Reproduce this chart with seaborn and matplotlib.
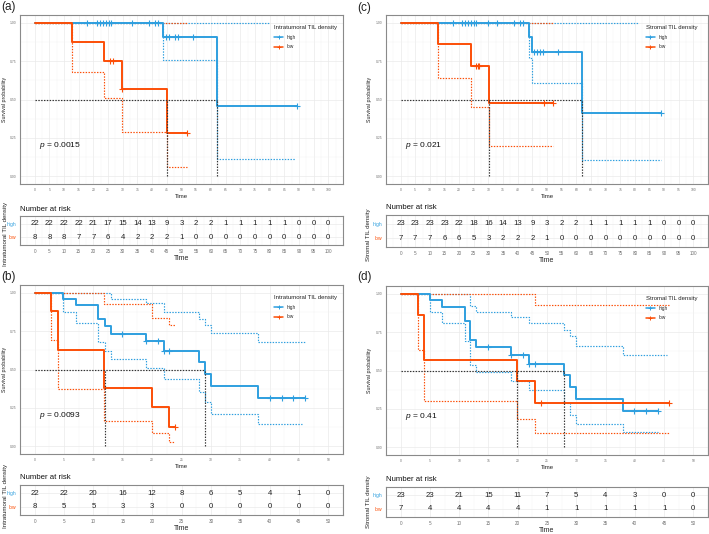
import numpy as np
import matplotlib
matplotlib.use("Agg")
import matplotlib.pyplot as plt
from matplotlib.lines import Line2D
from matplotlib.ticker import MultipleLocator, FormatStrFormatter
import seaborn as sns

# ---------------- data ----------------
GROUPS = ["high", "low"]

# Panel (a) Intratumoral TIL density, long follow-up
A_HIGH_T = [0, 43.6, 62.0]
A_HIGH_S = [1.0, 0.909, 0.46]
A_HIGH_LO = [1.0, 0.756, 0.115]
A_HIGH_UP = [1.0, 1.0, 1.0]
A_HIGH_END = [89.2, 88.7, 80.0]          # curve, lower CI, upper CI end times
A_HIGH_CENS = [17.7, 21.1, 22.1, 23.1, 24.2, 25.2, 25.9, 33.0, 38.9, 40.9, 42.0,
               44.6, 45.6, 47.7, 48.7, 53.8, 89.2]
A_LOW_T = [0, 12.8, 23.7, 29.9, 44.9]
A_LOW_S = [1.0, 0.877, 0.752, 0.566, 0.285]
A_LOW_LO = [1.0, 0.68, 0.508, 0.287, 0.06]
A_LOW_UP = [1.0, 1.0, 1.0, 1.0, 1.0]
A_LOW_END = [51.8, 51.8, 51.8]
A_LOW_CENS = [25.7, 26.7, 29.9, 51.8]
A_MEDIANS = [44.9, 62.0]
A_RISK_HIGH = [22, 22, 22, 22, 21, 17, 15, 14, 13, 9, 3, 2, 2, 1, 1, 1, 1, 1, 0, 0, 0]
A_RISK_LOW = [8, 8, 8, 7, 7, 6, 4, 2, 2, 2, 1, 0, 0, 0, 0, 0, 0, 0, 0, 0, 0]
A_PVAL = "0.0015"

# Panel (c) Stromal TIL density, long follow-up
C_HIGH_T = [0, 43.75, 44.9, 61.9]
C_HIGH_S = [1.0, 0.91, 0.809, 0.409]
C_HIGH_LO = [1.0, 0.77, 0.61, 0.103]
C_HIGH_UP = [1.0, 1.0, 1.0, 1.0]
C_HIGH_END = [88.9, 88.9, 81.0]
C_HIGH_CENS = [17.8, 21.0, 22.0, 23.1, 24.1, 25.1, 25.8, 29.9, 33.0, 38.75, 40.8, 41.8,
               45.7, 46.7, 47.7, 48.75, 53.75, 88.9]
C_LOW_T = [0, 12.8, 24.0, 30.1]
C_LOW_S = [1.0, 0.86, 0.716, 0.477]
C_LOW_LO = [1.0, 0.637, 0.454, 0.196]
C_LOW_UP = [1.0, 1.0, 1.0, 1.0]
C_LOW_END = [51.9, 51.9, 51.9]
C_LOW_CENS = [25.6, 26.4, 26.9, 49.0, 51.9]
C_MEDIANS = [30.1, 61.9]
C_RISK_HIGH = [23, 23, 23, 23, 22, 18, 16, 14, 13, 9, 3, 2, 2, 1, 1, 1, 1, 1, 0, 0, 0]
C_RISK_LOW = [7, 7, 7, 6, 6, 5, 3, 2, 2, 2, 1, 0, 0, 0, 0, 0, 0, 0, 0, 0, 0]
C_PVAL = "0.021"

# Panel (b) Intratumoral TIL density, short follow-up
B_HIGH_T = [0, 4.85, 6.96, 10.84, 12.0, 12.96, 18.95, 21.97, 27.97, 28.94, 30.08, 38.07]
B_HIGH_S = [1.0, 0.961, 0.918, 0.827, 0.78, 0.734, 0.687, 0.622, 0.546, 0.469, 0.391, 0.313]
B_HIGH_LO = [1.0, 0.875, 0.801, 0.68, 0.622, 0.568, 0.51, 0.438, 0.352, 0.287, 0.21, 0.147]
B_HIGH_UP = [1.0, 1.0, 1.0, 1.0, 1.0, 0.961, 0.933, 0.875, 0.83, 0.79, 0.74, 0.676]
B_HIGH_END = [46.06, 45.5, 46.06]
B_HIGH_CENS = [14.95, 18.95, 21.0, 21.97, 22.95, 40.07, 42.07, 44.06, 46.06]
B_LOW_T = [0, 2.85, 3.94, 11.87, 19.92, 22.95]
B_LOW_S = [1.0, 0.881, 0.628, 0.382, 0.257, 0.125]
B_LOW_LO = [1.0, 0.693, 0.374, 0.162, 0.086, 0.028]
B_LOW_UP = [1.0, 1.0, 1.0, 0.924, 0.833, 0.788]
B_LOW_END = [23.9, 23.9, 23.9]
B_LOW_CENS = [23.9]
B_MEDIANS = [12.0, 28.94]
B_RISK_HIGH = [22, 22, 20, 16, 12, 8, 6, 5, 4, 1, 0]
B_RISK_LOW = [8, 5, 5, 3, 3, 0, 0, 0, 0, 0, 0]
B_PVAL = "0.0093"

# Panel (d) Stromal TIL density, short follow-up
D_HIGH_T = [0, 4.94, 6.99, 10.97, 11.93, 12.9, 18.9, 21.9, 27.95, 28.98, 29.9, 37.95]
D_HIGH_S = [1.0, 0.957, 0.912, 0.825, 0.70, 0.653, 0.603, 0.543, 0.472, 0.394, 0.317, 0.235]
D_HIGH_LO = [1.0, 0.88, 0.81, 0.69, 0.534, 0.49, 0.43, 0.373, 0.29, 0.213, 0.153, 0.097]
D_HIGH_UP = [1.0, 1.0, 1.0, 1.0, 0.92, 0.879, 0.845, 0.808, 0.765, 0.722, 0.662, 0.60]
D_HIGH_END = [43.9, 43.9, 45.5]
D_HIGH_CENS = [14.9, 18.9, 20.9, 21.9, 22.9, 39.9, 41.9, 43.9]
D_LOW_T = [0, 2.95, 3.98, 19.9, 22.9]
D_LOW_S = [1.0, 0.858, 0.571, 0.433, 0.289]
D_LOW_LO = [1.0, 0.636, 0.30, 0.183, 0.093]
D_LOW_UP = [1.0, 1.0, 1.0, 1.0, 0.927]
D_LOW_END = [45.9, 45.9, 45.9]
D_LOW_CENS = [23.9, 45.9]
D_MEDIANS = [19.9, 27.95]
D_RISK_HIGH = [23, 23, 21, 15, 11, 7, 5, 4, 3, 0, 0]
D_RISK_LOW = [7, 4, 4, 4, 4, 1, 1, 1, 1, 1, 0]
D_PVAL = "0.41"

# ---------------- style ----------------
sns.set_style("white")
plt.rcParams['font.family'] = ['Liberation Sans', 'DejaVu Sans']
plt.rcParams['mathtext.fontset'] = 'custom'
plt.rcParams['mathtext.it'] = 'Liberation Sans:italic'
plt.rcParams['mathtext.rm'] = 'Liberation Sans'

BLUE = "#2E9FDF"
RED = "#FC4E07"
COLORS = {"high": BLUE, "low": RED}
W, H = 709, 534

fig = plt.figure(figsize=(W / 100, H / 100), dpi=100)


def rect(l, t, r, b):
    return [l / W, 1 - b / H, (r - l) / W, (b - t) / H]


def steps(t, s, end):
    return list(t) + [end], list(s) + [s[-1]]


def style_axes(ax, tmax):
    ax.set_xlim(-0.05 * tmax, 1.05 * tmax)
    ax.set_xticks(np.arange(0, tmax + 1, 5))
    ax.set_xticks(np.arange(-2.5, tmax + 5, 5), minor=True)
    ax.grid(which='major', color='#EAEAEA', lw=0.5)
    ax.grid(which='minor', color='#F3F3F3', lw=0.35)
    ax.set_axisbelow(True)
    for sp in ax.spines.values():
        sp.set_color('#8A8A8A')
        sp.set_linewidth(0.8)
    ax.tick_params(which='major', length=1.5, width=0.4, pad=1.2, colors='#8A8A8A',
                   labelcolor='#707070')
    ax.tick_params(which='minor', length=0)


def draw_panel(main_px, table_px, letter, letter_px, tmax, groups_data, medians,
               risk_high, risk_low, pval, title, leg_x, lab_x, tab_lab_x, tab_lab_y):
    ax = fig.add_axes(rect(*main_px))
    style_axes(ax, tmax)
    ax.set_ylim(-0.05, 1.05)
    ax.yaxis.set_major_locator(MultipleLocator(0.25))
    ax.yaxis.set_minor_locator(MultipleLocator(0.125))
    ax.yaxis.set_major_formatter(FormatStrFormatter('%.2f'))
    ax.tick_params(labelsize=2.4)

    # CI lines first
    for g in GROUPS:
        t, s, lo, up, end, cens = groups_data[g]
        for vals, e in ((lo, end[1]), (up, end[2])):
            xs, ys = steps(t, vals, e)
            sns.lineplot(x=xs, y=ys, drawstyle='steps-post', color=COLORS[g], lw=0.85,
                         ls=(0, (1.2, 1.2)), estimator=None, sort=False, ax=ax)
    # survival curves
    for g in GROUPS:
        t, s, lo, up, end, cens = groups_data[g]
        xs, ys = steps(t, s, end[0])
        sns.lineplot(x=xs, y=ys, drawstyle='steps-post', color=COLORS[g], lw=1.4,
                     estimator=None, sort=False, ax=ax)
        idx = np.searchsorted(np.array(t), np.array(cens), side='right') - 1
        cy = np.array(s)[idx]
        sns.scatterplot(x=cens, y=cy, marker='+', color=COLORS[g], s=18, linewidth=0.8,
                        ax=ax, zorder=4)
    # median lines
    ax.plot([0, max(medians)], [0.5, 0.5], ls=(0, (1.2, 1.2)), color='#333333', lw=0.85)
    for m in medians:
        ax.plot([m, m], [0, 0.5], ls=(0, (1.2, 1.2)), color='#333333', lw=0.85)

    ax.text(0.014 * tmax, 0.2, r"$p$ = " + pval, fontsize=6, va='center', ha='left',
            color='#111111')
    ax.set_xlabel("Time", fontsize=4.3, labelpad=1.5, color='#222222')
    ax.set_ylabel("Survival probability", fontsize=3.8, color='#222222')
    ax.yaxis.set_label_coords(lab_x, 0.5)

    handles = [Line2D([0], [0], color=COLORS[g], lw=1.1, marker='+', markersize=3.5,
                      markeredgewidth=0.7) for g in GROUPS]
    leg = ax.legend(handles, GROUPS, title=title, loc='upper left',
                    bbox_to_anchor=(leg_x, 0.955), frameon=False, fontsize=3.4,
                    title_fontsize=4.3, handlelength=1.9, handletextpad=0.8,
                    labelspacing=1.0, borderpad=0, alignment='left')
    leg.get_title().set_color('#222222')

    fig.text(letter_px[0] / W, 1 - letter_px[1] / H, letter, fontsize=8.5,
             ha='left', va='top', color='#222222')

    # risk table
    tx = fig.add_axes(rect(*table_px))
    style_axes(tx, tmax)
    tx.set_ylim(0.4, 2.6)
    tx.set_yticks([2, 1])
    tx.set_yticklabels(GROUPS)
    tx.tick_params(labelsize=3.3)
    tx.tick_params(axis='y', labelsize=3.6)
    for lbl, g in zip(tx.get_yticklabels(), GROUPS):
        lbl.set_color(COLORS[g])
    times = np.arange(len(risk_high)) * 5
    for t_, h_, l_ in zip(times, risk_high, risk_low):
        tx.text(t_, 2, str(h_), ha='center', va='center', fontsize=5.6, color='#222222')
        tx.text(t_, 1, str(l_), ha='center', va='center', fontsize=5.6, color='#222222')
    tx.text(0.0, 1.24, "Number at risk", transform=tx.transAxes, fontsize=5.6,
            ha='left', va='center', color='#111111')
    tx.set_xlabel("Time", fontsize=5.0, labelpad=1.2, color='#222222')
    tx.set_ylabel(title, fontsize=4.4, color='#222222')
    tx.yaxis.set_label_coords(tab_lab_x, tab_lab_y)


def gd(ht, hs, hlo, hup, hend, hc, lt, ls_, llo, lup, lend, lc):
    return {"high": (ht, hs, hlo, hup, hend, hc), "low": (lt, ls_, llo, lup, lend, lc)}


draw_panel((20, 15, 343, 184), (20, 216, 343, 245), "(a)", (1, 1), 100,
           gd(A_HIGH_T, A_HIGH_S, A_HIGH_LO, A_HIGH_UP, A_HIGH_END, A_HIGH_CENS,
              A_LOW_T, A_LOW_S, A_LOW_LO, A_LOW_UP, A_LOW_END, A_LOW_CENS),
           A_MEDIANS, A_RISK_HIGH, A_RISK_LOW, A_PVAL, "Intratumoral TIL density",
           0.78, -0.04, -0.038, 0.38)
draw_panel((386, 15, 708, 184), (386, 215, 708, 247), "(c)", (357, 2), 100,
           gd(C_HIGH_T, C_HIGH_S, C_HIGH_LO, C_HIGH_UP, C_HIGH_END, C_HIGH_CENS,
              C_LOW_T, C_LOW_S, C_LOW_LO, C_LOW_UP, C_LOW_END, C_LOW_CENS),
           C_MEDIANS, C_RISK_HIGH, C_RISK_LOW, C_PVAL, "Stromal TIL density",
           0.80, -0.044, -0.048, 0.4)
draw_panel((20, 285, 343, 454), (20, 485, 343, 515), "(b)", (1, 271), 50,
           gd(B_HIGH_T, B_HIGH_S, B_HIGH_LO, B_HIGH_UP, B_HIGH_END, B_HIGH_CENS,
              B_LOW_T, B_LOW_S, B_LOW_LO, B_LOW_UP, B_LOW_END, B_LOW_CENS),
           B_MEDIANS, B_RISK_HIGH, B_RISK_LOW, B_PVAL, "Intratumoral TIL density",
           0.78, -0.04, -0.038, 0.62)
draw_panel((386, 286, 708, 455), (386, 487, 708, 517), "(d)", (357, 271), 50,
           gd(D_HIGH_T, D_HIGH_S, D_HIGH_LO, D_HIGH_UP, D_HIGH_END, D_HIGH_CENS,
              D_LOW_T, D_LOW_S, D_LOW_LO, D_LOW_UP, D_LOW_END, D_LOW_CENS),
           D_MEDIANS, D_RISK_HIGH, D_RISK_LOW, D_PVAL, "Stromal TIL density",
           0.80, -0.044, -0.048, 0.5)

fig.savefig("out.png", dpi=100)
